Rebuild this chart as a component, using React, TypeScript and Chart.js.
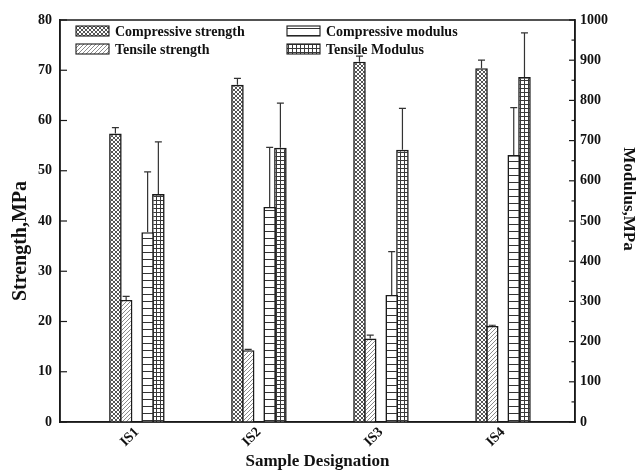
import React, { useEffect, useRef } from 'react';
import { Chart, registerables } from 'chart.js';

Chart.register(...registerables);

// ---- data ----
const categories = ['IS1', 'IS2', 'IS3', 'IS4'];

const compressiveStrength = [57.4, 67.1, 71.7, 70.4];
const compressiveStrengthErr = [1.2, 1.3, 1.1, 1.6];

const tensileStrength = [24.3, 14.3, 16.6, 19.1];
const tensileStrengthErr = [0.7, 0.15, 0.7, 0.15];

const compressiveModulus = [472, 535, 316, 664];
const compressiveModulusErr = [150, 148, 108, 118];

const tensileModulus = [567, 682, 677, 858];
const tensileModulusErr = [130, 111, 103, 110];

const strengthAxis = { min: 0, max: 80, step: 10 };
const modulusAxis = { min: 0, max: 1000, step: 100 };

const seriesLabels = [
  'Compressive strength',
  'Tensile strength',
  'Compressive modulus',
  'Tensile Modulus',
];
const xTitle = 'Sample Designation';
const yLeftTitle = 'Strength,MPa';
const yRightTitle = 'Modulus,MPa';

const FONT = "'Liberation Serif', 'Times New Roman', serif";
const INK = '#1a1a1a';

function makePattern(kind: string): CanvasPattern {
  const c = document.createElement('canvas');
  let w = 4;
  let h = 4;
  if (kind === 'hlines') { w = 4; h = 7; }
  c.width = w;
  c.height = h;
  const g = c.getContext('2d') as CanvasRenderingContext2D;
  g.fillStyle = '#fff';
  g.fillRect(0, 0, w, h);
  if (kind === 'cross') {
    g.fillStyle = '#555';
    const px = [[0, 0], [1, 1], [2, 2], [3, 3], [3, 0], [2, 1], [1, 2], [0, 3]];
    px.forEach(([x, y]) => g.fillRect(x, y, 1, 1));
  } else if (kind === 'diag') {
    g.fillStyle = '#8a8a8a';
    const px = [[3, 0], [2, 1], [1, 2], [0, 3]];
    px.forEach(([x, y]) => g.fillRect(x, y, 1, 1));
  } else if (kind === 'hlines') {
    g.fillStyle = '#333';
    g.fillRect(0, 0, w, 1);
  } else if (kind === 'grid') {
    g.fillStyle = '#3a3a3a';
    g.fillRect(0, 0, w, 1);
    g.fillRect(0, 0, 1, h);
  }
  const p = g.createPattern(c, 'repeat');
  return p as CanvasPattern;
}

export default function App() {
  const ref = useRef<HTMLCanvasElement | null>(null);

  useEffect(() => {
    const canvas = ref.current;
    if (!canvas) return;

    const patterns = [
      makePattern('cross'),
      makePattern('diag'),
      makePattern('hlines'),
      makePattern('grid'),
    ];
    const values = [compressiveStrength, tensileStrength, compressiveModulus, tensileModulus];
    const errors = [compressiveStrengthErr, tensileStrengthErr, compressiveModulusErr, tensileModulusErr];
    const axes = ['y', 'y', 'y1', 'y1'];

    const toPoints = (arr: (number | null)[]) => arr.map((v, i) => ({ x: i + 1, y: v }));

    const barStyle = (k: number) => ({
      backgroundColor: patterns[k],
      borderColor: INK,
      borderWidth: 1.6,
      yAxisID: axes[k],
    });

    const datasets: any[] = [
      { label: seriesLabels[0], data: toPoints(values[0]), ...barStyle(0) },
      { label: seriesLabels[1], data: toPoints(values[1]), ...barStyle(1) },
      // empty slot that leaves the gap between strength and modulus bars
      { label: '', data: toPoints(categories.map(() => null)), yAxisID: 'y', backgroundColor: 'rgba(0,0,0,0)', borderWidth: 0 },
      { label: seriesLabels[2], data: toPoints(values[2]), ...barStyle(2) },
      { label: seriesLabels[3], data: toPoints(values[3]), ...barStyle(3) },
    ];
    const seriesIndex = [0, 1, 3, 4];

    const errorBarPlugin = {
      id: 'errorBars',
      afterDatasetsDraw(chart: any) {
        const ctx = chart.ctx as CanvasRenderingContext2D;
        ctx.save();
        ctx.strokeStyle = '#333';
        ctx.lineWidth = 1.2;
        seriesIndex.forEach((dsIdx, k) => {
          const meta = chart.getDatasetMeta(dsIdx);
          const scale = chart.scales[axes[k]];
          meta.data.forEach((el: any, i: number) => {
            const v = values[k][i];
            const e = errors[k][i];
            const yTop = scale.getPixelForValue(v + e);
            const yBar = scale.getPixelForValue(v);
            ctx.beginPath();
            ctx.moveTo(el.x, yBar);
            ctx.lineTo(el.x, yTop);
            ctx.moveTo(el.x - 3.5, yTop);
            ctx.lineTo(el.x + 3.5, yTop);
            ctx.stroke();
          });
        });
        ctx.restore();
      },
    };

    const framePlugin = {
      id: 'frameTicks',
      afterDraw(chart: any) {
        const ctx = chart.ctx as CanvasRenderingContext2D;
        const a = chart.chartArea;
        ctx.save();
        ctx.strokeStyle = INK;
        ctx.lineWidth = 1.5;
        ctx.strokeRect(a.left, a.top, a.right - a.left, a.bottom - a.top);
        ctx.lineWidth = 1.2;
        const yl = chart.scales.y;
        yl.ticks.forEach((t: any) => {
          const py = yl.getPixelForValue(t.value);
          ctx.beginPath();
          ctx.moveTo(a.left, py);
          ctx.lineTo(a.left + 7, py);
          ctx.stroke();
        });
        const yr = chart.scales.y1;
        yr.ticks.forEach((t: any, i: number) => {
          const py = yr.getPixelForValue(t.value);
          ctx.beginPath();
          ctx.moveTo(a.right, py);
          ctx.lineTo(a.right - 6, py);
          ctx.stroke();
          if (i < yr.ticks.length - 1) {
            const pm = yr.getPixelForValue((t.value + yr.ticks[i + 1].value) / 2);
            ctx.beginPath();
            ctx.moveTo(a.right, pm);
            ctx.lineTo(a.right - 3.5, pm);
            ctx.stroke();
          }
        });

        // axis titles for the two value axes
        ctx.fillStyle = '#111';
        ctx.textAlign = 'center';
        ctx.textBaseline = 'middle';
        const midY = (a.top + a.bottom) / 2;
        ctx.save();
        ctx.font = `bold 20px ${FONT}`;
        ctx.translate(a.left - 39, midY + 20);
        ctx.rotate(-Math.PI / 2);
        ctx.fillText(yLeftTitle, 0, 0);
        ctx.restore();
        ctx.save();
        ctx.font = `bold 17px ${FONT}`;
        ctx.translate(a.right + 53, midY - 22);
        ctx.rotate(Math.PI / 2);
        ctx.fillText(yRightTitle, 0, 0);
        ctx.restore();

        // legend inside the plot box
        const colX = [a.left + 16, a.left + 227];
        const rowY = [a.top + 11, a.top + 29];
        const order = [0, 2, 1, 3];
        ctx.font = `bold 14px ${FONT}`;
        ctx.textBaseline = 'middle';
        ctx.textAlign = 'left';
        order.forEach((k, n) => {
          const cx = colX[n % 2];
          const cy = rowY[Math.floor(n / 2)];
          ctx.fillStyle = patterns[k];
          ctx.fillRect(cx, cy - 5, 33, 10);
          ctx.lineWidth = 1.1;
          ctx.strokeStyle = INK;
          ctx.strokeRect(cx, cy - 5, 33, 10);
          ctx.fillStyle = '#111';
          ctx.fillText(seriesLabels[k], cx + 39, cy + 1);
        });
        ctx.restore();
      },
    };

    const tickFont = { family: FONT, size: 14, weight: 'bold' as const };
    const titleFont = { family: FONT, size: 17, weight: 'bold' as const };

    const chart = new Chart(canvas, {
      type: 'bar',
      data: { datasets },
      options: {
        animation: false,
        responsive: false,
        devicePixelRatio: 1,
        layout: { padding: { top: 20, left: 0, right: 0, bottom: 0 } },
        datasets: {
          bar: {
            categoryPercentage: 0.44,
            barPercentage: 1.17,
            borderSkipped: 'start',
          },
        },
        plugins: {
          legend: { display: false },
          tooltip: { enabled: false },
        },
        scales: {
          x: {
            type: 'linear',
            min: 0.37,
            max: 4.59,
            offset: false,
            afterBuildTicks: (s: any) => {
              s.ticks = categories.map((_, i) => ({ value: i + 1 }));
            },
            afterFit: (s: any) => { s.height = 48; },
            grid: { display: false, drawTicks: false, tickLength: 0 },
            border: { display: true, color: INK, width: 1.5 },
            ticks: {
              autoSkip: false,
              maxRotation: 45,
              minRotation: 45,
              padding: 2,
              color: '#111',
              font: tickFont,
              callback: (v: any) => categories[Math.round(Number(v)) - 1] ?? '',
            },
            title: {
              display: true,
              text: xTitle,
              color: '#111',
              font: titleFont,
              padding: { top: 0, bottom: -2 },
            },
          },
          y: {
            position: 'left',
            min: strengthAxis.min,
            max: strengthAxis.max,
            afterFit: (s: any) => { s.width = 60; },
            grid: { display: false, drawTicks: false, tickLength: 0 },
            border: { display: true, color: INK, width: 1.5 },
            ticks: {
              stepSize: strengthAxis.step,
              padding: 8,
              color: '#111',
              font: tickFont,
              callback: (v: any) => String(v),
            },
          },
          y1: {
            position: 'right',
            min: modulusAxis.min,
            max: modulusAxis.max,
            afterFit: (s: any) => { s.width = 61; },
            grid: { display: false, drawTicks: false, tickLength: 0 },
            border: { display: true, color: INK, width: 1.5 },
            ticks: {
              stepSize: modulusAxis.step,
              padding: 5,
              color: '#111',
              font: tickFont,
              callback: (v: any) => String(v),
            },
          },
        },
      } as any,
      plugins: [errorBarPlugin, framePlugin],
    });

    return () => chart.destroy();
  }, []);

  return (
    <div style={{ position: 'absolute', left: 0, top: 0, width: 636, height: 470, background: '#fff' }}>
      <canvas ref={ref} width={636} height={470} style={{ display: 'block' }} />
    </div>
  );
}
